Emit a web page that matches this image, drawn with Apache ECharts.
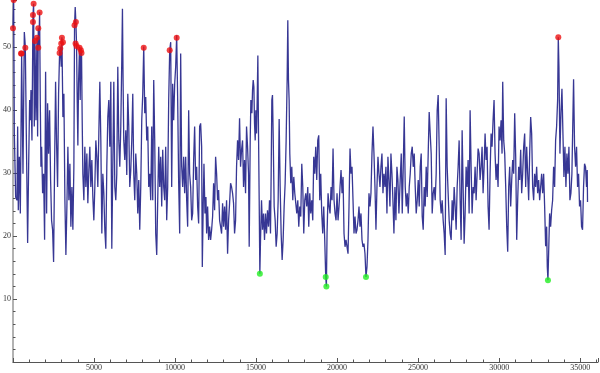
<!DOCTYPE html>
<html>
<head>
<meta charset="utf-8">
<script src="https://cdn.jsdelivr.net/npm/echarts@6/dist/echarts.min.js"></script>
<style>
html,body{margin:0;padding:0;background:#fff;}
#c{width:600px;height:373px;}
</style>
</head>
<body>
<div id="c"></div>
<script>
// Sample positions along the x axis
const sampleX = [
0,41,82,164,246,287,328,390,452,534,
616,698,760,821,903,965,1027,1068,1109,1170,
1232,1273,1314,1355,1417,1478,1519,1560,1601,1642,
1683,1724,1766,1827,1889,1950,2012,2074,2135,2197,
2258,2320,2381,2443,2505,2566,2628,2689,2751,2813,
2874,2915,2977,3018,3080,3141,3203,3264,3326,3387,
3449,3511,3572,3634,3695,3757,3798,3839,3880,3921,
3962,4003,4044,4106,4147,4188,4229,4270,4311,4373,
4434,4496,4558,4619,4681,4742,4804,4866,4927,4989,
5050,5112,5174,5235,5297,5358,5420,5482,5543,5605,
5666,5728,5789,5851,5913,5974,6036,6097,6159,6221,
6282,6344,6405,6467,6529,6590,6652,6713,6754,6795,
6836,6898,6960,7021,7083,7144,7206,7268,7329,7391,
7452,7514,7576,7637,7699,7760,7822,7884,7945,8007,
8068,8130,8191,8253,8315,8376,8438,8499,8561,8623,
8684,8746,8807,8869,8931,8992,9054,9115,9177,9239,
9300,9362,9423,9485,9546,9608,9670,9731,9793,9854,
9916,9978,10039,10101,10162,10224,10286,10347,10409,10470,
10532,10593,10655,10717,10778,10840,10901,10963,11025,11086,
11148,11209,11271,11333,11394,11456,11517,
11579,11641,11682,11743,11784,11846,11907,11949,12010,12072,
12133,12195,12257,12318,12380,12441,12503,12564,12626,12688,
12749,12811,12872,12934,12996,13057,13119,13180,13242,13304,
13365,13427,13488,13550,13611,13673,13735,13796,13858,13919,
13981,14043,14104,14166,14227,14289,14351,14412,14474,14535,
14576,14638,14679,14741,14782,14823,14864,14905,14946,14987,
15028,15069,15110,15151,15192,15233,15274,15336,15398,15459,
15521,15582,15644,15705,15767,15829,15890,15931,15972,16013,
16054,16116,16178,16239,16301,16363,16424,16486,16547,16609,
16670,16732,16794,16855,16917,16958,16999,17040,17081,17143,
17204,17266,17327,17389,17451,17512,17574,17635,17697,17759,
17820,17882,17943,18005,18066,18128,18190,18251,18313,18374,
18436,18498,18559,18621,18682,18744,18806,18867,18929,18990,
19052,19113,19175,19237,19298,19339,19380,19442,19503,19565,
19627,19688,19750,19811,19873,19935,19996,20058,20119,20181,
20243,20304,20366,20427,20489,20551,20612,20674,20735,20797,
20859,20920,20982,21043,21105,21166,21228,21290,21351,21413,
21474,21536,21598,21659,21721,21782,21844,21906,21967,22029,
22090,22152,22214,22275,22337,22398,22460,22522,22583,22645,
22706,22768,22830,22891,22953,23014,23076,23137,23199,23261,
23322,23384,23445,23507,23568,23630,23692,23753,23815,23876,
23959,24020,24082,24143,24205,24267,24328,24390,24451,24513,
24575,24636,24698,24759,24821,24882,24944,25006,25067,25129,
25190,25252,25314,25375,25437,25498,25560,25622,25683,25745,
25806,25868,25929,25991,26053,26114,26176,26237,26299,26361,
26422,26484,26545,26607,26669,26730,26792,26853,26915,26977,
27038,27100,27161,27223,27285,27346,27408,27469,27531,27592,
27654,27716,27777,27839,27900,27962,28023,28085,28147,28208,
28270,28331,28393,28455,28516,28578,28639,28701,28763,28824,
28886,28947,29009,29071,29132,29194,29255,29317,29379,29440,
29502,29563,29625,29686,29748,29810,29871,29933,29994,30056,
30118,30179,30220,30282,30343,30405,30467,30528,30590,30651,
30713,30775,30836,30898,30959,31021,31083,31144,31206,31267,
31329,31390,31452,31514,31575,31637,31698,31760,31822,31883,
31945,32006,32068,32129,32191,32253,32314,32376,32437,32499,
32561,32622,32684,32745,32807,32869,32930,32971,33012,33053,
33115,33177,33238,33300,33361,33423,33484,33546,33608,33649,
33690,33751,33813,33875,33936,33998,34059,34121,34182,34244,
34306,34367,34429,34490,34552,34593,34654,34716,34777,34839,
34901,34962,35024,35085,35147,35208,35270,35331,35393,35434,
35454
];
// Sample values
const sampleY = [
53.0,57.5,36.3,26.2,25.7,37.4,24.1,32.6,23.6,49.0,
29.9,52.4,50.1,36.3,18.9,31.0,41.6,38.4,43.2,35.2,
55.1,56.9,37.4,51.1,38.4,51.6,35.8,53.0,50.1,55.6,
41.6,31.0,34.2,26.8,29.9,19.4,46.1,23.6,41.1,33.1,
40.0,28.9,22.5,21.0,15.9,31.0,44.5,34.7,27.8,42.6,
49.0,50.1,46.9,51.6,38.9,42.6,25.7,17.0,24.7,34.2,
25.7,31.5,21.5,27.8,21.0,31.0,53.5,56.4,54.0,50.6,
41.6,34.4,44.2,50.1,41.6,49.8,49.3,38.4,29.9,25.7,
34.2,27.8,33.1,25.2,30.5,34.2,27.8,32.1,26.2,22.5,
27.8,35.2,32.6,27.8,36.3,44.5,35.2,20.4,29.9,26.8,
21.0,18.0,31.0,38.9,41.6,34.2,44.5,18.0,31.0,44.5,
27.8,25.7,29.9,46.9,35.2,31.0,37.4,48.0,56.1,44.2,
35.2,32.1,36.8,29.7,42.6,37.4,27.8,30.5,35.2,42.6,
29.9,25.7,33.1,29.9,23.6,28.9,21.0,27.8,38.4,42.6,
50.1,39.5,42.1,35.2,37.4,27.8,29.9,25.7,37.4,25.7,
44.8,35.2,20.4,17.0,25.7,34.2,27.8,32.6,24.7,33.7,
27.8,25.7,34.2,22.5,27.8,41.6,49.5,50.8,27.8,44.2,
38.4,44.2,46.9,51.9,41.6,28.4,20.4,49.0,31.0,27.8,
32.6,26.8,32.6,25.7,21.5,40.0,29.9,27.8,22.5,23.6,
32.1,37.4,28.9,31.0,24.7,22.0,37.4,
37.9,34.2,15.1,25.7,31.5,23.6,26.2,20.4,24.7,19.4,
21.5,19.4,21.0,23.1,28.4,24.1,32.6,29.9,25.7,27.3,
22.5,21.5,20.4,25.2,21.5,24.7,21.0,25.7,17.2,22.5,
25.2,28.4,27.8,26.8,25.2,20.4,22.5,31.0,35.2,32.1,
38.7,31.0,33.7,35.2,27.8,32.1,26.8,37.4,34.2,29.9,
18.3,35.2,41.6,39.5,43.2,44.8,43.7,37.9,35.2,40.0,
36.3,41.6,48.7,36.3,25.7,14.0,19.4,25.7,21.0,23.6,
19.4,23.6,20.4,24.1,21.5,25.7,20.4,29.9,41.6,42.4,
36.3,24.7,22.5,18.3,20.4,25.7,38.6,27.8,20.4,16.2,
19.4,24.7,28.4,35.2,44.8,54.3,44.8,41.6,33.1,28.4,
31.0,25.7,29.4,26.8,25.2,23.6,25.7,21.5,24.7,23.1,
31.5,27.8,20.4,25.7,26.8,24.7,27.8,21.5,26.8,23.6,
25.7,22.5,32.6,29.9,34.2,28.9,35.2,36.0,25.7,29.9,
23.6,20.4,24.7,19.4,13.5,12.0,20.4,26.8,24.7,23.6,
27.8,25.7,33.9,25.7,23.6,22.5,26.8,22.5,24.7,27.8,
30.5,26.8,29.4,20.4,18.3,19.4,18.3,17.2,24.7,33.9,
29.9,31.0,25.7,20.4,23.1,20.4,21.0,22.5,24.7,21.5,
23.6,19.4,18.3,18.8,17.2,13.5,15.1,19.4,26.8,24.7,
26.8,33.1,37.4,33.1,27.8,21.0,27.8,32.6,29.9,27.8,
31.0,33.1,26.8,29.9,27.8,31.0,23.6,32.6,28.9,24.7,
33.1,29.9,25.7,20.4,27.8,22.5,31.0,28.9,23.6,27.8,
33.1,23.6,31.0,39.0,27.8,24.7,26.8,23.6,27.8,29.9,
33.1,34.2,31.0,33.1,27.8,23.6,25.7,28.9,24.7,31.0,
33.1,23.1,21.0,27.8,24.7,31.0,26.2,33.1,39.7,36.3,
33.1,23.6,26.8,27.8,25.7,29.9,40.0,42.4,34.2,25.7,
23.6,25.7,22.5,20.4,17.0,41.9,31.0,26.8,22.5,20.4,
19.4,25.7,22.5,27.8,24.7,21.0,27.8,31.0,35.2,25.7,
19.4,36.8,27.8,18.8,23.6,31.0,27.8,32.1,23.6,40.0,
31.0,23.6,27.8,26.8,31.0,25.7,29.9,33.9,33.1,28.9,
31.0,34.2,26.8,31.0,36.3,32.1,34.2,24.7,21.0,29.9,
36.3,34.2,38.4,41.6,33.1,28.9,31.5,27.8,37.4,35.2,
38.4,33.1,44.5,35.2,33.1,27.8,21.5,17.5,27.8,31.0,
24.7,28.9,32.1,29.9,39.5,32.6,19.4,25.7,31.0,28.9,
33.7,26.8,29.9,34.2,36.3,27.8,34.2,29.9,25.7,33.1,
38.9,36.3,27.8,25.7,29.9,27.8,31.0,26.8,28.9,25.7,
27.8,29.9,26.8,29.9,24.7,18.4,21.5,15.1,13.0,17.2,
23.6,21.5,24.1,25.7,31.0,27.8,35.2,37.4,41.6,51.6,
46.9,33.1,39.5,43.4,36.3,29.4,34.2,27.8,33.1,29.9,
34.2,25.7,26.8,29.9,38.9,44.9,34.2,31.0,34.2,27.8,
29.9,24.7,25.7,21.5,21.0,27.8,31.5,31.0,27.8,30.5,
25.4
];
// Marked highs (red) and lows (green)
const highX = [0,41,493,534,760,1232,1232,1273,1355,1478,1560,1560,1642,2874,2915,2977,3018,3080,3798,3860,3880,3921,4106,4188,4229,8068,9670,10101,33649];
const highY = [53.0,57.5,49.0,49.0,49.9,54.0,55.1,56.9,51.0,51.5,53.0,49.9,55.5,49.1,49.8,50.6,51.5,50.8,53.5,50.6,54.0,50.2,49.9,49.5,49.1,49.9,49.5,51.5,51.6];
const lowX = [15233,19298,19339,21782,33012];
const lowY = [14.0,13.5,12.0,13.5,13.0];

const zip = (xs, ys) => xs.map((x, i) => [x, ys[i]]);

const chart = echarts.init(document.getElementById('c'), null, {renderer: 'canvas'});
const labelFont = {fontFamily: 'Liberation Serif', fontSize: 8, color: '#333'};
chart.setOption({
  animation: false,
  grid: {left: 12, right: 2, top: 0, bottom: 11, containLabel: false},
  xAxis: {
    type: 'value', min: 0, max: 36100, interval: 5000,
    axisLine: {onZero: false, lineStyle: {color: '#555', width: 1}},
    axisTick: {inside: true, length: 4, lineStyle: {color: '#555'}},
    minorTick: {show: true, splitNumber: 5, length: 2.5, lineStyle: {color: '#555'}},
    splitLine: {show: false},
    axisLabel: Object.assign({margin: 2, showMinLabel: false, showMaxLabel: false,
      formatter: v => (v > 0 && v % 5000 === 0) ? String(v) : ''}, labelFont)
  },
  yAxis: {
    type: 'value', min: 0, max: 57.5, interval: 10,
    axisLine: {show: true, onZero: false, lineStyle: {color: '#999', width: 1.5}},
    axisTick: {show: true, inside: true, length: 4, lineStyle: {color: '#555'}},
    minorTick: {show: true, splitNumber: 5, length: 2.5, lineStyle: {color: '#555'}},
    splitLine: {show: false},
    axisLabel: Object.assign({margin: 2, showMinLabel: false, showMaxLabel: false,
      formatter: v => (v > 0 && v % 10 === 0) ? String(v) : ''}, labelFont)
  },
  series: [
    {
      type: 'line', data: zip(sampleX, sampleY), showSymbol: false, symbol: 'none',
      lineStyle: {color: '#2c2c8e', width: 1.3, opacity: 0.95}, z: 2
    },
    {
      type: 'scatter', data: zip(highX, highY), symbolSize: 6,
      itemStyle: {color: '#ee1111'}, z: 3
    },
    {
      type: 'scatter', data: zip(lowX, lowY), symbolSize: 6,
      itemStyle: {color: '#22ee22'}, z: 3
    }
  ]
});
</script>
</body>
</html>
